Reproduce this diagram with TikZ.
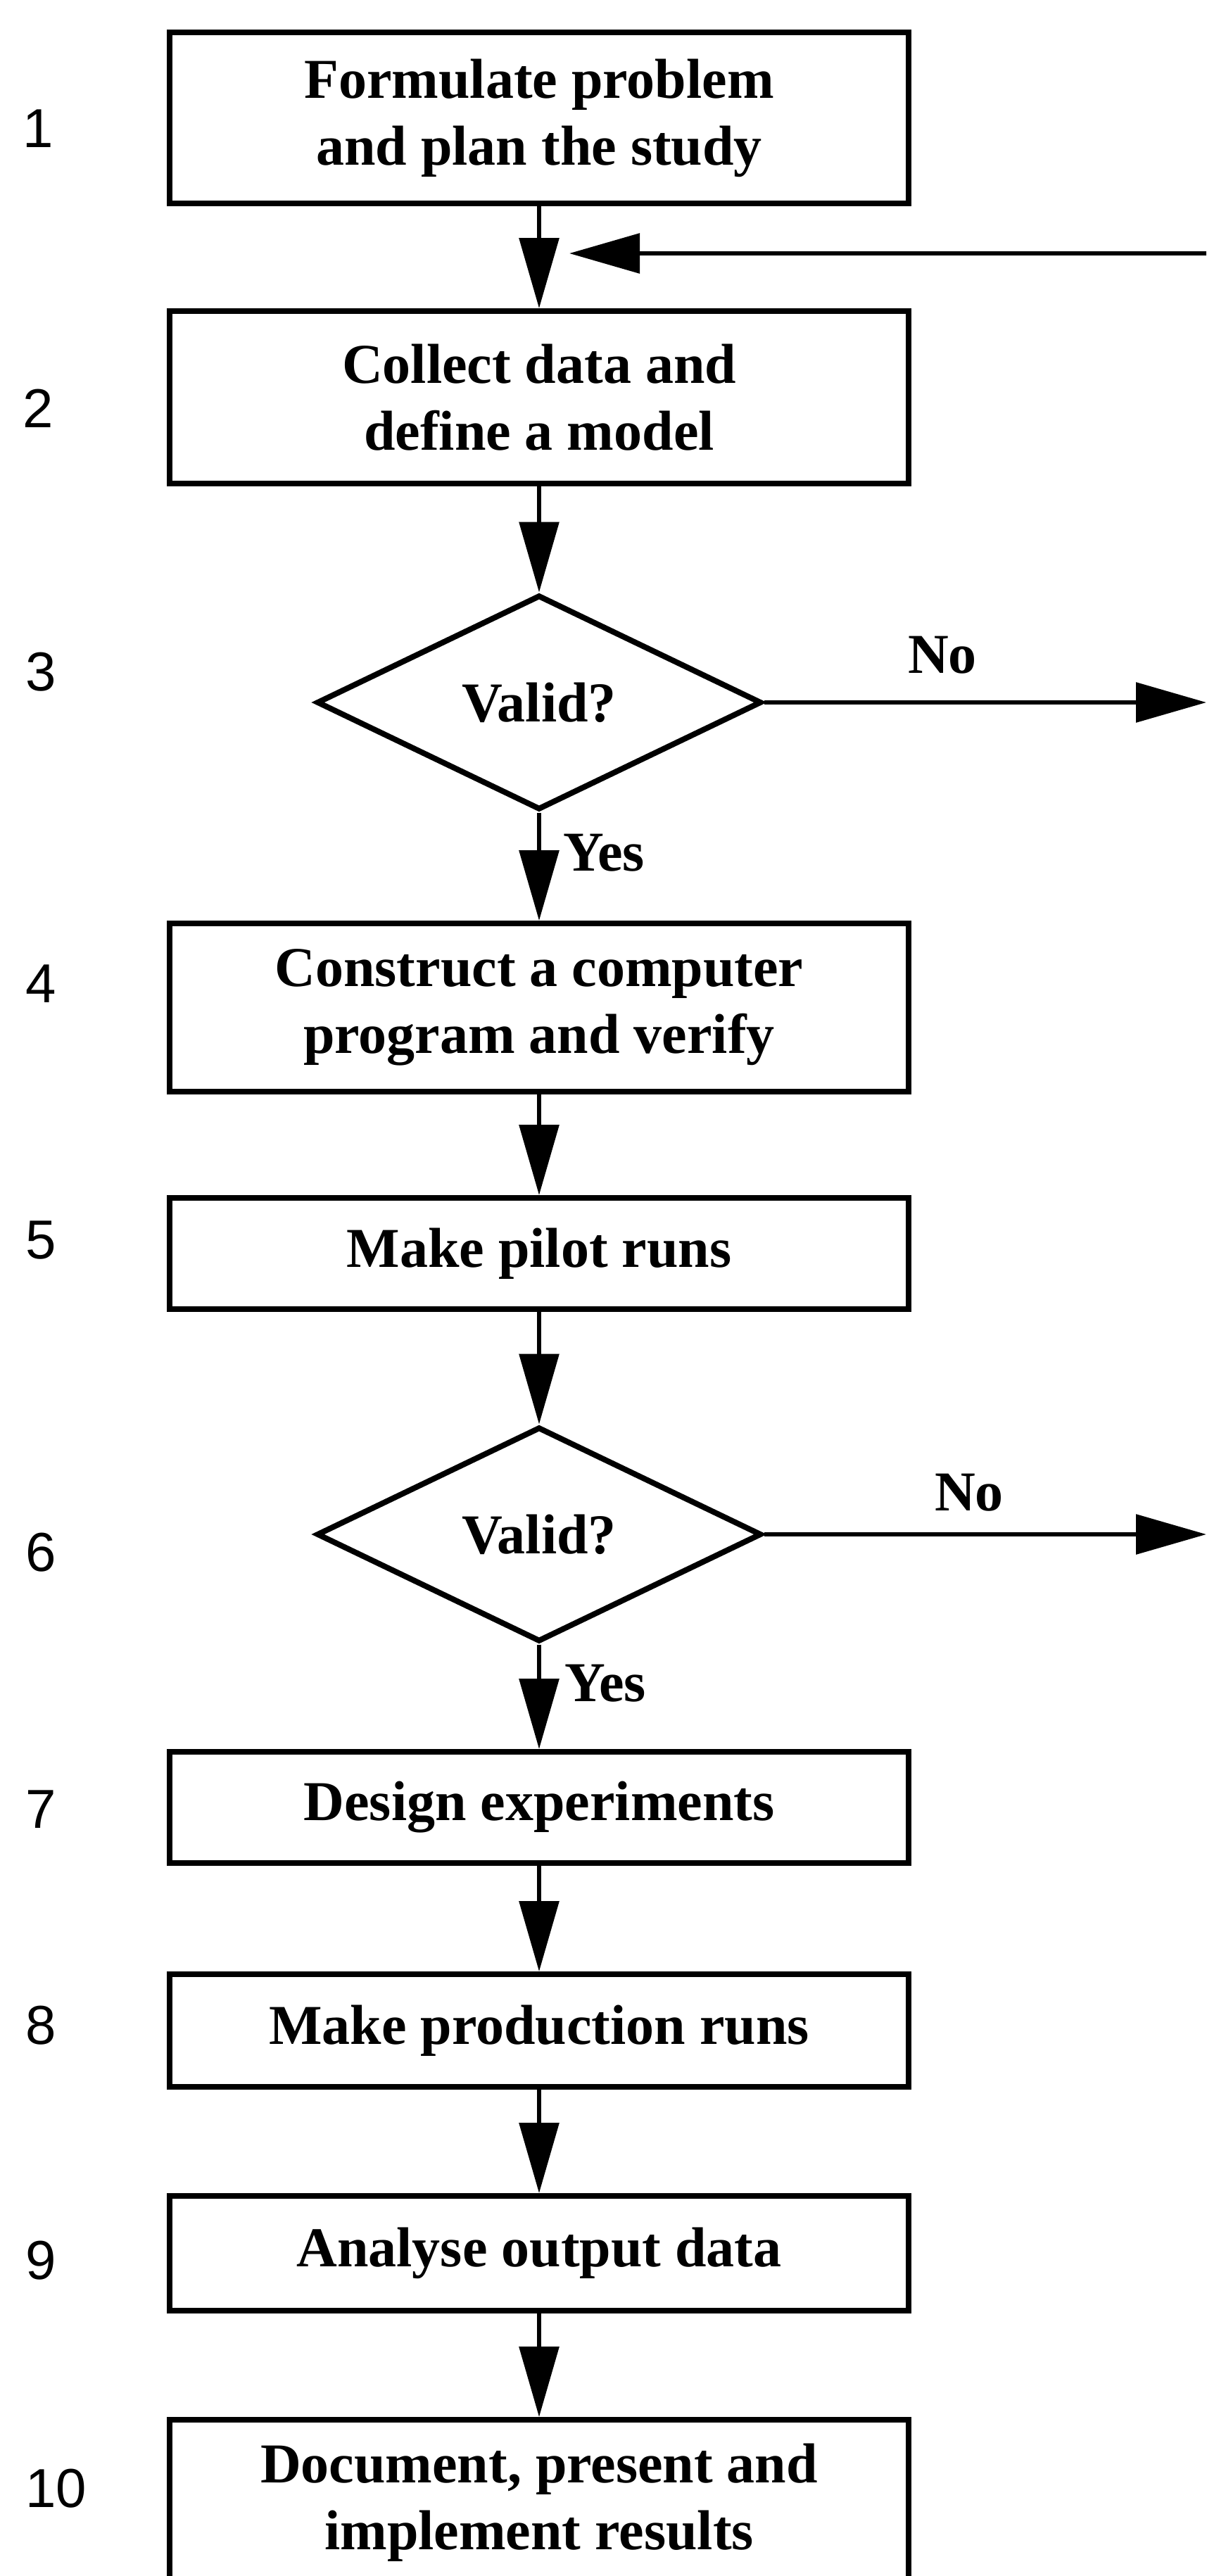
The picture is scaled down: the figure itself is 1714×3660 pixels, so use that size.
\documentclass[tikz,border=0pt]{standalone}
\usepackage{fontspec}
\setmainfont{Liberation Serif}
\newfontfamily\numfont{Liberation Sans}
\usetikzlibrary{arrows.meta,shapes.geometric}
\begin{document}
\begin{tikzpicture}[x=1pt,y=-1pt,
  boxfont/.style={font=\bfseries\fontsize{80}{95}\selectfont},
  stepbox/.style={draw, line width=8pt, minimum width=1050pt, inner sep=0pt,
    align=center, boxfont},
  decision/.style={draw, diamond, line width=8pt, minimum width=632pt,
    minimum height=305pt, inner sep=0pt, boxfont},
  flow/.style={line width=6pt, -{Triangle[length=100pt,width=56pt]}},
  num/.style={anchor=west, inner sep=0pt, font=\numfont\fontsize{78}{90}\selectfont},
  lbl/.style={inner sep=0pt, boxfont}]

% page
\fill[white] (0,0) rectangle (1714,3660);
\useasboundingbox (0,0) rectangle (1714,3660);

% steps
\node[stepbox, minimum height=243pt] (s1) at (766,167.5) {Formulate problem\\and plan the study};
\node[stepbox, minimum height=245pt] (s2) at (766,564.5) {Collect data and\\define a model};
\node[decision] (d1) at (766,998) {Valid?};
\node[stepbox, minimum height=239pt] (s4) at (766,1431.5) {Construct a computer\\program and verify};
\node[stepbox, minimum height=158pt] (s5) at (766,1781) {Make pilot runs};
\node[decision] (d2) at (766,2180) {Valid?};
\node[stepbox, minimum height=158pt] (s7) at (766,2568) {Design experiments};
\node[stepbox, minimum height=160pt] (s8) at (766,2885) {Make production runs};
\node[stepbox, minimum height=163pt] (s9) at (766,3201.5) {Analyse output data};
% last box runs past the lower page edge
\node[stepbox, minimum height=236pt] (s10) at (766,3556) {Document, present and\\implement results};

% step numbers
\node[num] (n1) at (32,183) {1};
\node[num] (n2) at (32,580) {2};
\node[num] (n3) at (36,955) {3};
\node[num] (n4) at (36,1398) {4};
\node[num] (n5) at (36,1762) {5};
\node[num] (n6) at (36,2206) {6};
\node[num] (n7) at (36,2571) {7};
\node[num] (n8) at (36,2878) {8};
\node[num] (n9) at (36,3212) {9};
\node[num] (n10) at (36,3536) {10};

% main flow
\draw[flow] (s1.south) -- (s2.north);
\draw[flow] (s2.south) -- (d1.north);
\draw[flow] (d1.south) -- (s4.north);
\draw[flow] (s4.south) -- (s5.north);
\draw[flow] (s5.south) -- (d2.north);
\draw[flow] (d2.south) -- (s7.north);
\draw[flow] (s7.south) -- (s8.north);
\draw[flow] (s8.south) -- (s9.north);
\draw[flow] (s9.south) -- (s10.north);

% branch labels
\node[lbl] (yes1) at (858,1212) {Yes};
\node[lbl] (yes2) at (860,2392) {Yes};
\node[lbl] (no1) at (1339,931) {No};
\node[lbl] (no2) at (1377,2121) {No};

% "No" exits and the return path
\coordinate (x1) at (1714,998);
\coordinate (x2) at (1714,2180);
\coordinate (rin) at (1714,360);
\coordinate (rtip) at (809,360);
\draw[flow] (d1.east) -- (x1);
\draw[flow] (d2.east) -- (x2);
\draw[flow] (rin) -- (rtip);
\end{tikzpicture}
\end{document}
